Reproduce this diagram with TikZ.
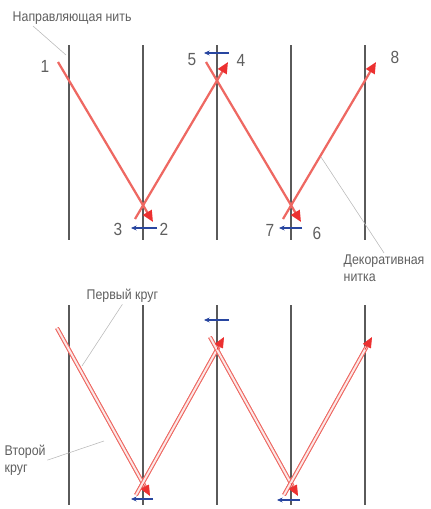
\documentclass[tikz,border=0pt]{standalone}
\usepackage{fontspec}
\setmainfont{Liberation Sans}
\newfontfamily\narrowfont[FakeStretch=0.88]{Liberation Sans}
\definecolor{thread}{RGB}{238,104,98}
\definecolor{threadtip}{RGB}{236,48,48}
\definecolor{guide}{RGB}{90,90,90}
\definecolor{turn}{RGB}{40,70,160}
\definecolor{labelgray}{RGB}{95,95,95}
\usetikzlibrary{arrows.meta,positioning,calc}

\begin{document}
\begin{tikzpicture}[
  x=0.025cm, y=-0.025cm,
  every node/.style={font=\narrowfont\fontsize{10}{12.5}\selectfont,text=labelgray,inner sep=1pt},
  numlabel/.style={font=\narrowfont\fontsize{12.5}{14}\selectfont},
  guideline/.style={draw=guide,line width=0.8pt},
  decothread/.style={draw=thread,line width=1.6pt},
  roundthread/.style={draw=thread,line width=0.7pt,double=thread!15,double distance=1.4pt},
  tiparrow/.style={-{Triangle[length=8pt,width=7pt,color=threadtip]}},
  tiponly/.style={draw=threadtip,line width=0.5pt,-{Triangle[length=7.5pt,width=6.5pt]}},
  turnarrow/.style={draw=turn,line width=0.8pt,-{Stealth[length=4pt,width=3.5pt]}},
  leader/.style={draw=gray!55,line width=0.4pt},
]
  \useasboundingbox (0,0) rectangle (430,509);

  % guide threads
  \foreach \x in {69,143,217,291,365} {
    \draw[guideline] (\x,45) -- (\x,240);
    \draw[guideline] (\x,305) -- (\x,505);
  }

  % upper zigzag
  \coordinate (p1) at (58,62);
  \coordinate (p2) at (153,222);
  \coordinate (p3) at (135,219);
  \coordinate (p4) at (228,62);
  \coordinate (p5) at (206,62);
  \coordinate (p6) at (301,222);
  \coordinate (p7) at (283,219);
  \coordinate (p8) at (376,62);
  \draw[decothread,tiparrow] (p1) -- (p2);
  \draw[decothread,tiparrow] (p3) -- (p4);
  \draw[decothread,tiparrow] (p5) -- (p6);
  \draw[decothread,tiparrow] (p7) -- (p8);

  \node[numlabel] (n1) at (45,66) {1};
  \node[numlabel] (n2) at (164,229) {2};
  \node[numlabel] (n3) at (118,229) {3};
  \node[numlabel] (n4) at (241,60) {4};
  \node[numlabel] (n5) at (192,60) {5};
  \node[numlabel] (n6) at (317,233) {6};
  \node[numlabel] (n7) at (270,230) {7};
  \node[numlabel] (n8) at (395,57) {8};

  % turns
  \coordinate (u1a) at (157,228);
  \coordinate (u1b) at (131,228);
  \coordinate (u2a) at (229,53);
  \coordinate (u2b) at (204,53);
  \coordinate (u3a) at (302,228);
  \coordinate (u3b) at (279,228);
  \draw[turnarrow] (u1a) -- (u1b);
  \draw[turnarrow] (u2a) -- (u2b);
  \draw[turnarrow] (u3a) -- (u3b);

  % lower zigzag, two rounds
  \coordinate (q1) at (57,328);
  \coordinate (q2) at (150,496);
  \coordinate (q3) at (136,495);
  \coordinate (q4) at (224,337);
  \coordinate (q5) at (210,337);
  \coordinate (q6) at (298,496);
  \coordinate (q7) at (284,495);
  \coordinate (q8) at (372,337);
  \foreach \s in {-3.5,3.5} {
    \begin{scope}[shift={(\s,0)}]
      \draw[roundthread] (q1) -- ($(q1)!0.95!(q2)$);
      \draw[roundthread] (q3) -- ($(q3)!0.94!(q4)$);
      \draw[roundthread] (q5) -- ($(q5)!0.94!(q6)$);
      \draw[roundthread] (q7) -- ($(q7)!0.94!(q8)$);
    \end{scope}
  }
  \draw[tiponly] ($(q1)!0.93!(q2)$) -- (q2);
  \draw[tiponly] ($(q3)!0.92!(q4)$) -- (q4);
  \draw[tiponly] ($(q5)!0.92!(q6)$) -- (q6);
  \draw[tiponly] ($(q7)!0.92!(q8)$) -- (q8);

  \coordinate (w1a) at (153,499);
  \coordinate (w1b) at (131,499);
  \coordinate (w2a) at (229,320);
  \coordinate (w2b) at (204,320);
  \coordinate (w3a) at (300,500);
  \coordinate (w3b) at (277,500);
  \draw[turnarrow] (w1a) -- (w1b);
  \draw[turnarrow] (w2a) -- (w2b);
  \draw[turnarrow] (w3a) -- (w3b);

  % labels
  \node[anchor=west] (guidelbl) at (11,18) {Направляющая нить};
  \coordinate (guidefoot) at (33,26);
  \coordinate (guidept) at (66,55);
  \draw[leader] (guidefoot) -- (guidept);

  \node[anchor=north west,align=left] (decolbl) at (342,253) {Декоративная\\нитка};
  \coordinate (decopt) at (321,157);
  \draw[leader] (decolbl.north) -- (decopt);

  \node[anchor=west] (firstlbl) at (85,296) {Первый круг};
  \coordinate (firstpt) at (82,366);
  \draw[leader] (firstlbl.south) -- (firstpt);

  \node[anchor=north west,align=left] (secondlbl) at (3,443) {Второй\\круг};
  \coordinate (secondpt) at (104,441);
  \draw[leader] (secondlbl.east) -- (secondpt);
\end{tikzpicture}
\end{document}
